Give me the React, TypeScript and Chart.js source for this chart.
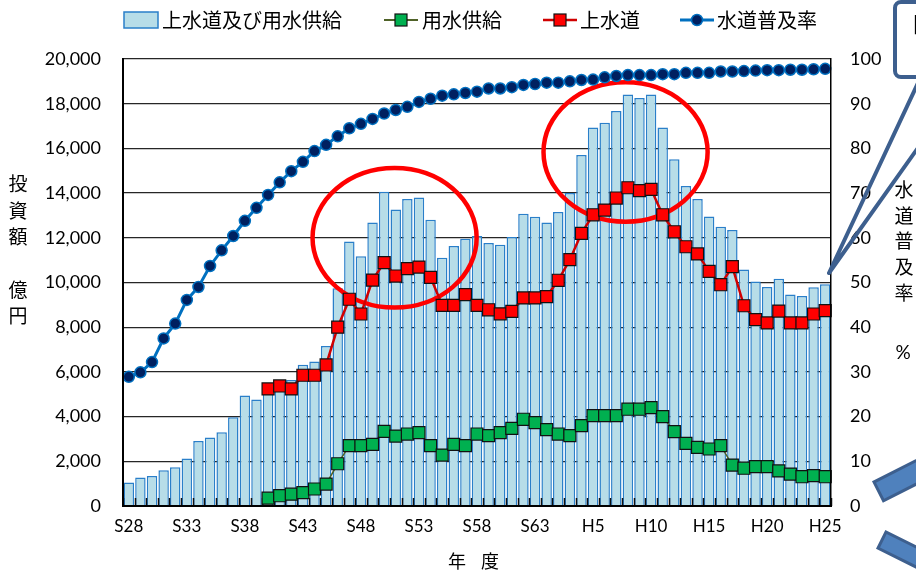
import { useEffect, useRef } from "react";
import { Chart, registerables } from "chart.js";

Chart.register(...registerables);

// 年度 (S28 – H25)
const fiscalYears = [
  "S28", "S29", "S30", "S31", "S32", "S33", "S34", "S35", "S36", "S37",
  "S38", "S39", "S40", "S41", "S42", "S43", "S44", "S45", "S46", "S47",
  "S48", "S49", "S50", "S51", "S52", "S53", "S54", "S55", "S56", "S57",
  "S58", "S59", "S60", "S61", "S62", "S63", "H1", "H2", "H3", "H4",
  "H5", "H6", "H7", "H8", "H9", "H10", "H11", "H12", "H13", "H14",
  "H15", "H16", "H17", "H18", "H19", "H20", "H21", "H22", "H23", "H24",
  "H25",
];

// 上水道及び用水供給 投資額 (億円)
const totalInvestment = [
  1050, 1270, 1340, 1600, 1730, 2130, 2910, 3060, 3300, 3970,
  4940, 4760, 5350, 5500, 5640, 6320, 6460, 7160, 9740, 11830,
  11180, 12690, 14060, 13270, 13740, 13800, 12810, 11110, 11630, 11960,
  12080, 11770, 11690, 12040, 13080, 12940, 12690, 13150, 14000, 15700,
  16940, 17150, 17670, 18410, 18260, 18410, 16940, 15510, 14320, 13740,
  12950, 12500, 12350, 10580, 10050, 9800, 10170, 9460, 9400, 9790,
  9920,
];

// 用水供給 投資額 (億円)
const bulkSupply = [
  null, null, null, null, null, null, null, null, null, null,
  null, null, 350, 460, 530, 600, 760, 980, 1890, 2700,
  2700, 2760, 3340, 3130, 3220, 3280, 2700, 2280, 2760, 2700,
  3220, 3150, 3280, 3470, 3880, 3730, 3420, 3220, 3150, 3600,
  4040, 4040, 4040, 4330, 4330, 4400, 4000, 3330, 2800, 2620,
  2550, 2700, 1830, 1690, 1760, 1760, 1570, 1430, 1310, 1360,
  1310,
];

// 上水道 投資額 (億円)
const waterworks = [
  null, null, null, null, null, null, null, null, null, null,
  null, null, 5240, 5370, 5240, 5850, 5850, 6310, 8000, 9250,
  8590, 10110, 10890, 10290, 10620, 10690, 10230, 8980, 8980, 9460,
  8980, 8780, 8600, 8710, 9310, 9310, 9370, 10100, 11020, 12200,
  13030, 13240, 13780, 14240, 14110, 14170, 13030, 12270, 11600, 11280,
  10500, 9900, 10710, 8960, 8340, 8190, 8720, 8190, 8190, 8590,
  8740,
];

// 水道普及率 (%)
const coverageRate = [
  28.9, 29.9, 32.2, 37.5, 40.8, 46.1, 49.0, 53.7, 57.2, 60.4,
  63.8, 66.7, 69.6, 72.4, 74.9, 77.0, 79.4, 80.8, 82.7, 84.5,
  85.5, 86.6, 87.8, 88.6, 89.3, 90.4, 91.1, 91.8, 92.1, 92.4,
  92.7, 93.4, 93.4, 93.7, 94.2, 94.4, 94.7, 94.7, 95.0, 95.3,
  95.4, 95.9, 96.2, 96.4, 96.4, 96.4, 96.6, 96.6, 96.9, 96.9,
  96.9, 97.2, 97.2, 97.3, 97.4, 97.5, 97.5, 97.6, 97.6, 97.7,
  97.8,
];

// Highlight rings around the two investment peaks (category index / 億円)
const ringCenterIndex = [22.9, 42.8];
const ringCenterValue = [12000, 15840];
const ringHalfYears = 7.07;
const ringHalfValue = 3120;

const leftTitle = ["投", "資", "額", "", "億", "円"];
const rightTitle = ["水", "道", "普", "及", "率"];

const JP = '"Noto Sans CJK JP", "Noto Sans", sans-serif';
const NUM = 'Lato, "Noto Sans", sans-serif';

const BAR_FILL = "#b7dde8";
const BAR_EDGE = "#2a7fc9";
const CALLOUT = "#3d5f8e";

const decorPlugin = {
  id: "decor",
  afterDatasetDraw(chart: any, args: any) {
    if (args.index !== 0) return;
    const { ctx, chartArea, scales } = chart;
    const x = scales.x;
    const y = scales.y;
    const step = x.getPixelForValue(1) - x.getPixelForValue(0);

    // small category ticks along the floor of the plot
    ctx.save();
    ctx.strokeStyle = "#111";
    ctx.lineWidth = 1.5;
    for (let i = 0; i <= fiscalYears.length; i++) {
      const px = Math.round(x.getPixelForValue(i - 0.5)) + 0.5;
      ctx.beginPath();
      ctx.moveTo(px, chartArea.bottom - 8);
      ctx.lineTo(px, chartArea.bottom);
      ctx.stroke();
    }
    ctx.restore();

    // red rings
    ctx.save();
    ctx.strokeStyle = "#ff0000";
    ctx.lineWidth = 4.5;
    for (let k = 0; k < ringCenterIndex.length; k++) {
      const cx = x.getPixelForValue(ringCenterIndex[k]);
      const cy = y.getPixelForValue(ringCenterValue[k]);
      const ry = y.getPixelForValue(0) - y.getPixelForValue(ringHalfValue);
      ctx.beginPath();
      ctx.ellipse(cx, cy, ringHalfYears * step, ry, 0, 0, Math.PI * 2);
      ctx.stroke();
    }
    ctx.restore();
  },
  afterDraw(chart: any) {
    const { ctx } = chart;
    ctx.save();

    // legend
    ctx.textBaseline = "middle";
    ctx.textAlign = "left";
    ctx.font = `20px ${JP}`;
    ctx.fillStyle = "#000";
    const ly = 20;

    ctx.fillStyle = BAR_FILL;
    ctx.fillRect(124, 12, 34, 16);
    ctx.strokeStyle = BAR_EDGE;
    ctx.lineWidth = 1.5;
    ctx.strokeRect(124, 12, 34, 16);
    ctx.fillStyle = "#000";
    ctx.fillText("上水道及び用水供給", 162, ly);

    const lineMarker = (x0: number, color: string, lw: number, draw: (cx: number) => void) => {
      ctx.strokeStyle = color;
      ctx.lineWidth = lw;
      ctx.beginPath();
      ctx.moveTo(x0, ly);
      ctx.lineTo(x0 + 34, ly);
      ctx.stroke();
      draw(x0 + 17);
    };
    const square = (fill: string) => (cx: number) => {
      ctx.fillStyle = fill;
      ctx.fillRect(cx - 6, ly - 6, 12, 12);
      ctx.strokeStyle = "#111";
      ctx.lineWidth = 1.2;
      ctx.strokeRect(cx - 6, ly - 6, 12, 12);
    };
    lineMarker(384, "#4f6228", 2, square("#00b050"));
    ctx.fillStyle = "#000";
    ctx.fillText("用水供給", 422, ly);
    lineMarker(543, "#d00000", 2.5, square("#ff0000"));
    ctx.fillStyle = "#000";
    ctx.fillText("上水道", 580, ly);
    lineMarker(680, "#0070c0", 3, (cx) => {
      ctx.beginPath();
      ctx.arc(cx, ly, 5.5, 0, Math.PI * 2);
      ctx.fillStyle = "#002060";
      ctx.fill();
      ctx.strokeStyle = "#0070c0";
      ctx.lineWidth = 1.5;
      ctx.stroke();
    });
    ctx.fillStyle = "#000";
    ctx.fillText("水道普及率", 717, ly);

    // axis titles
    ctx.textAlign = "center";
    ctx.font = `19px ${JP}`;
    leftTitle.forEach((ch, i) => {
      if (ch) ctx.fillText(ch, 18, 184 + i * 26.4);
    });
    rightTitle.forEach((ch, i) => ctx.fillText(ch, 904, 190 + i * 25.6));
    ctx.font = `19px ${NUM}`;
    ctx.fillText("%", 903, 353);
    ctx.font = `18px ${JP}`;
    ctx.fillText("年", 457, 561);
    ctx.fillText("度", 490, 561);

    // callout box with pointer
    ctx.strokeStyle = CALLOUT;
    ctx.lineWidth = 4;
    ctx.lineCap = "round";
    ctx.beginPath();
    ctx.moveTo(829, 273);
    ctx.lineTo(925, 68);
    ctx.moveTo(829, 273);
    ctx.lineTo(925, 138);
    ctx.stroke();
    ctx.fillStyle = "#fff";
    ctx.beginPath();
    (ctx as any).roundRect(895, 2, 60, 75, 6);
    ctx.fill();
    ctx.stroke();
    ctx.fillStyle = "#000";
    ctx.textAlign = "left";
    ctx.font = `22px ${JP}`;
    ctx.fillText("日本", 911, 24);

    // blue strips at lower right
    const strip = (x0: number, y0: number, angle: number, len: number, thick: number) => {
      ctx.save();
      ctx.translate(x0, y0);
      ctx.rotate(angle);
      ctx.fillStyle = "#4f81bd";
      ctx.fillRect(0, 0, len, thick);
      ctx.strokeStyle = CALLOUT;
      ctx.lineWidth = 3;
      ctx.strokeRect(0, 0, len, thick);
      ctx.restore();
    };
    strip(874, 482, -0.47, 80, 21);
    strip(886, 532, 0.46, 80, 18);

    ctx.restore();
  },
};

export default function App() {
  const canvasRef = useRef<HTMLCanvasElement | null>(null);

  useEffect(() => {
    const canvas = canvasRef.current;
    if (!canvas) return;
    const chart = new Chart(canvas, {
      type: "bar",
      data: {
        labels: fiscalYears,
        datasets: [
          {
            type: "bar",
            label: "上水道及び用水供給",
            data: totalInvestment,
            backgroundColor: BAR_FILL,
            borderColor: BAR_EDGE,
            borderWidth: { top: 1.5, left: 1.5, right: 1.5, bottom: 0 },
            borderSkipped: false,
            barPercentage: 0.9,
            categoryPercentage: 1.0,
            yAxisID: "y",
            order: 4,
          },
          {
            type: "line",
            label: "用水供給",
            data: bulkSupply,
            borderColor: "#4f6228",
            borderWidth: 1.5,
            pointStyle: "rect",
            pointRadius: 8.5,
            pointBackgroundColor: "#00b050",
            pointBorderColor: "#111",
            pointBorderWidth: 1.2,
            yAxisID: "y",
            order: 3,
          },
          {
            type: "line",
            label: "上水道",
            data: waterworks,
            borderColor: "#d00000",
            borderWidth: 2.5,
            pointStyle: "rect",
            pointRadius: 8.5,
            pointBackgroundColor: "#ff0000",
            pointBorderColor: "#111",
            pointBorderWidth: 1.2,
            yAxisID: "y",
            order: 2,
          },
          {
            type: "line",
            label: "水道普及率",
            data: coverageRate,
            borderColor: "#0070c0",
            borderWidth: 3,
            pointStyle: "circle",
            pointRadius: 5.5,
            pointBackgroundColor: "#002060",
            pointBorderColor: "#0070c0",
            pointBorderWidth: 1.5,
            yAxisID: "y2",
            order: 1,
          },
        ],
      },
      options: {
        responsive: false,
        animation: false,
        events: [],
        layout: { padding: { top: 59, left: 0, right: 0, bottom: 0 } },
        plugins: {
          legend: { display: false },
          tooltip: { enabled: false },
          title: { display: false },
        },
        scales: {
          x: {
            type: "category",
            offset: true,
            grid: { display: false, drawTicks: false },
            border: { display: true, color: "#000", width: 2, z: 1 },
            ticks: {
              autoSkip: false,
              maxRotation: 0,
              minRotation: 0,
              padding: 10,
              color: "#000",
              font: { family: NUM, size: 17 },
              callback: (_v: any, i: number) => (i % 5 === 0 ? fiscalYears[i] : ""),
            },
            afterFit: (s: any) => {
              s.height = 67;
            },
          },
          y: {
            position: "left",
            min: 0,
            max: 20000,
            grid: { color: "#262626", lineWidth: 1.3, drawTicks: false },
            border: { display: true, color: "#000", width: 2, z: 1 },
            ticks: {
              stepSize: 2000,
              padding: 22,
              color: "#000",
              font: { family: NUM, size: 18 },
              callback: (v: any) => Number(v).toLocaleString("en-US"),
            },
            afterFit: (s: any) => {
              s.width = 123;
            },
          },
          y2: {
            position: "right",
            min: 0,
            max: 100,
            grid: { display: false, drawTicks: false },
            border: { display: true, color: "#000", width: 1.5, z: 1 },
            ticks: {
              stepSize: 10,
              padding: 19,
              color: "#000",
              font: { family: NUM, size: 18 },
            },
            afterFit: (s: any) => {
              s.width = 85;
            },
          },
        },
      },
      plugins: [decorPlugin],
    } as any);
    return () => chart.destroy();
  }, []);

  return (
    <div style={{ position: "absolute", left: 0, top: 0, width: 916, height: 573, background: "#fff" }}>
      <canvas ref={canvasRef} width={916} height={573} style={{ display: "block", width: 916, height: 573 }} />
    </div>
  );
}
